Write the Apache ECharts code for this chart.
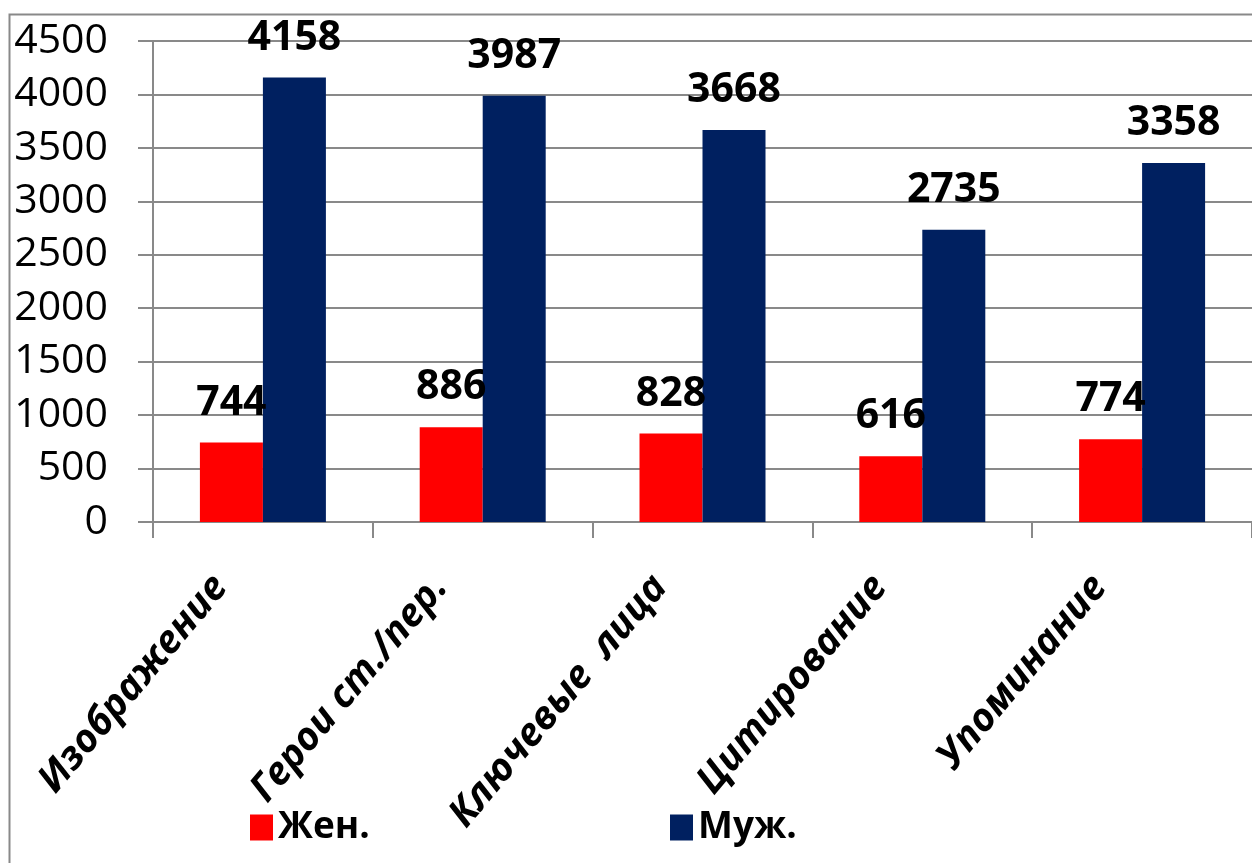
<!DOCTYPE html>
<html>
<head>
    <meta charset="utf-8">
    <title>ECharts</title>
    <script src="https://cdn.jsdelivr.net/npm/echarts@6/dist/echarts.min.js"></script>
    <style type="text/css">
        * { margin: 0; padding: 0; }
        body { background: #fff; }
    </style>
</head>
<body>
<div id="main" style="width: 1252px; height: 863px;"></div>
<script type="text/javascript">
    // данные
    var categories = ['Изображение', 'Герои ст./пер.', 'Ключевые  лица', 'Цитирование', 'Упоминание'];
    var womenValues = [744, 886, 828, 616, 774];
    var menValues = [4158, 3987, 3668, 2735, 3358];
    var yTicks = [0, 500, 1000, 1500, 2000, 2500, 3000, 3500, 4000, 4500];

    var myChart = echarts.init(document.getElementById('main'));

    var gray = '#898989';
    var valueLabel = {
        show: true,
        position: 'top',
        distance: 19,
        color: '#000',
        fontFamily: 'Open Sans',
        fontWeight: 'bold',
        fontSize: 41
    };
    var legendText = { color: '#000', fontFamily: 'Open Sans', fontWeight: 'bold', fontSize: 37 };

    var option = {
        animation: false,
        color: ['#FF0000', '#002060'],
        // рамка вокруг диаграммы (обрезана справа и снизу)
        graphic: [{
            type: 'rect',
            left: 7,
            top: 12,
            shape: { x: 0, y: 0, width: 1400, height: 1000 },
            style: { fill: 'none', stroke: gray, lineWidth: 2 },
            silent: true
        }],
        legend: [{
            data: ['Жен.'],
            left: 245,
            top: 804,
            icon: 'rect',
            itemWidth: 23,
            itemHeight: 26,
            textStyle: legendText
        }, {
            data: ['Муж.'],
            left: 665,
            top: 804,
            icon: 'rect',
            itemWidth: 23,
            itemHeight: 26,
            textStyle: legendText
        }],
        grid: {
            left: 153,
            right: 0,
            top: 41,
            bottom: 341,
            containLabel: false
        },
        xAxis: {
            type: 'category',
            data: categories,
            axisLine: { lineStyle: { color: gray, width: 2 } },
            axisTick: { show: true, length: 16, lineStyle: { color: gray, width: 2 } },
            axisLabel: {
                interval: 0,
                rotate: 50,
                margin: 8,
                padding: [0, 66, 34, 0],
                color: '#000',
                fontFamily: 'Open Sans',
                fontStyle: 'italic',
                fontWeight: 'bold',
                fontSize: 39
            }
        },
        yAxis: {
            type: 'value',
            min: yTicks[0],
            max: yTicks[yTicks.length - 1],
            interval: yTicks[1] - yTicks[0],
            axisLine: { show: true, lineStyle: { color: gray, width: 2 } },
            axisTick: { show: true, length: 15, lineStyle: { color: gray, width: 2 } },
            splitLine: { lineStyle: { color: gray, width: 2 } },
            axisLabel: {
                margin: 45,
                color: '#000',
                fontFamily: 'Open Sans',
                fontSize: 41,
                formatter: function (v) { return String(v); }
            }
        },
        series: [
            {
                name: 'Жен.',
                type: 'bar',
                barWidth: 63,
                barGap: '0%',
                label: valueLabel,
                data: womenValues
            },
            {
                name: 'Муж.',
                type: 'bar',
                barWidth: 63,
                barGap: '0%',
                label: valueLabel,
                data: menValues
            }
        ]
    };
    myChart.setOption(option);
</script>
</body>
</html>
